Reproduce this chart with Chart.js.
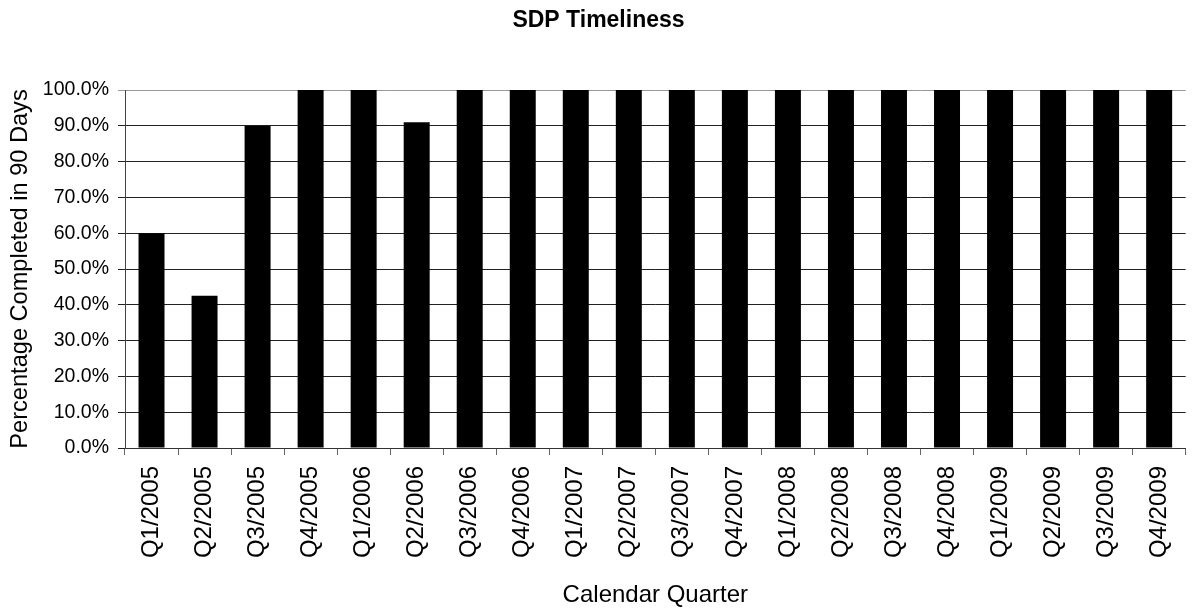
<!DOCTYPE html>
<html>
<head>
<meta charset="utf-8">
<title>SDP Timeliness</title>
<script src="https://cdn.jsdelivr.net/npm/chart.js@4/dist/chart.umd.min.js"></script>
<style>
  html, body { margin: 0; padding: 0; background: #fff; }
  #chart { display: block; }
</style>
</head>
<body>
<canvas id="chart" width="1199" height="608"></canvas>
<script>
// quarters on the x axis
const quarters = [
  'Q1/2005', 'Q2/2005', 'Q3/2005', 'Q4/2005',
  'Q1/2006', 'Q2/2006', 'Q3/2006', 'Q4/2006',
  'Q1/2007', 'Q2/2007', 'Q3/2007', 'Q4/2007',
  'Q1/2008', 'Q2/2008', 'Q3/2008', 'Q4/2008',
  'Q1/2009', 'Q2/2009', 'Q3/2009', 'Q4/2009'
];

// percent of SDPs completed within 90 days
const pctCompleted = [
  60, 42.5, 90, 100,
  100, 91, 100, 100,
  100, 100, 100, 100,
  100, 100, 100, 100,
  100, 100, 100, 100
];

// y axis tick values
const yTicks = [0, 10, 20, 30, 40, 50, 60, 70, 80, 90, 100];

const FONT = '"Liberation Sans", Arial, Helvetica, sans-serif';

const ctx = document.getElementById('chart').getContext('2d');
const chart = new Chart(ctx, {
  type: 'bar',
  data: {
    labels: quarters,
    datasets: [{
      label: 'Percentage Completed',
      data: pctCompleted,
      backgroundColor: '#000',
      borderWidth: 0,
      barPercentage: 0.49,
      categoryPercentage: 1
    }]
  },
  options: {
    responsive: false,
    animation: false,
    layout: { padding: { left: 0, right: 2, top: 0, bottom: 0 } },
    plugins: {
      legend: { display: false },
      tooltip: { enabled: false },
      title: {
        display: true,
        text: 'SDP Timeliness',
        color: '#000',
        font: { family: FONT, size: 23, weight: 'bold', lineHeight: 1.2 },
        padding: { top: 6.7, bottom: 55.7 }
      }
    },
    scales: {
      x: {
        offset: true,
        grid: {
          offset: true,
          drawOnChartArea: false,
          drawTicks: true,
          tickLength: 7,
          color: '#666'
        },
        border: { display: true, color: '#333', width: 1 },
        ticks: {
          color: '#000',
          font: { family: FONT, size: 24 },
          minRotation: 90,
          maxRotation: 90,
          autoSkip: false,
          padding: 11
        },
        title: {
          display: true,
          text: 'Calendar Quarter',
          color: '#000',
          font: { family: FONT, size: 24 },
          padding: { top: 0, bottom: -1.4 }
        },
        afterFit: (scale) => { scale.height = 160; }
      },
      y: {
        min: 0,
        max: 100,
        afterBuildTicks: (scale) => {
          scale.ticks = yTicks.map(v => ({ value: v }));
        },
        grid: {
          color: (c) => (c.tick && c.tick.value === 100) ? '#999' : '#222',
          lineWidth: 1,
          drawTicks: true,
          tickLength: 7
        },
        border: { display: true, color: '#444', width: 1 },
        ticks: {
          color: '#000',
          font: { family: FONT, size: 19.5 },
          padding: 9,
          callback: (v) => Number(v).toFixed(1) + '%'
        },
        title: {
          display: true,
          text: 'Percentage Completed in 90 Days',
          color: '#000',
          font: { family: FONT, size: 23.6 },
          padding: { top: 6.6, bottom: 0 }
        },
        afterFit: (scale) => { scale.width = 125; }
      }
    }
  }
});
</script>
</body>
</html>
